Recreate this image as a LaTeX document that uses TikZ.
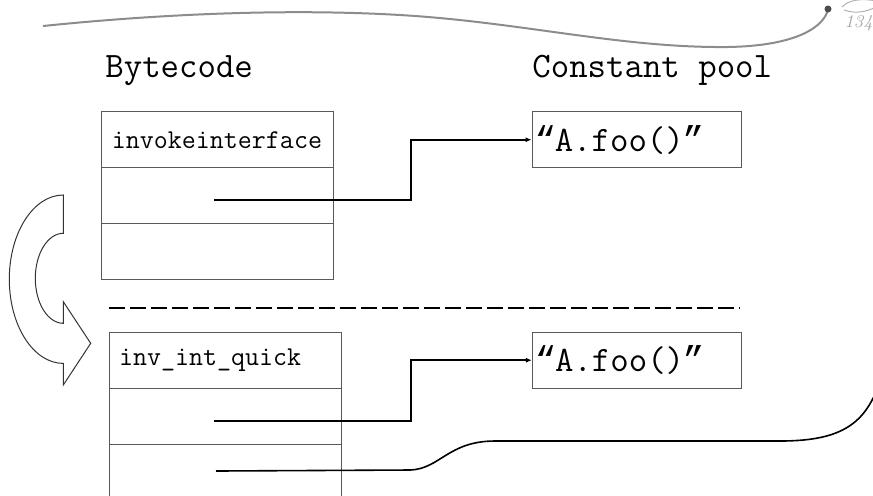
\documentclass[tikz,border=0pt]{standalone}
\usepackage{fontspec}
\newfontfamily\quotefont{Liberation Mono}
\usetikzlibrary{arrows.meta}

\newcommand{\oq}{\makebox[0.525em]{\quotefont “}}
\newcommand{\cq}{\makebox[0.525em]{\quotefont ”}}

\tikzset{
  cell/.style={draw=black!65, line width=0.5pt, rectangle, minimum height=28pt,
    text width=106pt, inner xsep=5pt, inner ysep=0pt, align=left,
    font=\ttfamily\fontsize{13.6}{14}\selectfont},
  poolcell/.style={cell, text width=100.5pt, inner xsep=2pt,
    font=\ttfamily\fontsize{17.9}{18}\selectfont},
  header/.style={anchor=base west, inner sep=0pt, font=\ttfamily\fontsize{17.9}{18}\selectfont},
  ptr/.style={line width=0.8pt, -{Latex[length=3pt,width=2.6pt]}},
  slideline/.style={draw=gray!90, line width=1pt},
}

\begin{document}
\begin{tikzpicture}[x=0.5pt, y=-0.5pt]
    \useasboundingbox (0,0) rectangle (873,495);

    % Slide decoration (top)
    \draw[slideline] (43,26) .. controls (150,15) and (280,8) .. (400,15)
        .. controls (520,22) and (620,48) .. (727,47)
        .. controls (800,46) and (825,25) .. (828,9);
    \fill[gray!60!black] (828,9) circle (1.75pt);
    \draw[gray!60, line width=0.5pt] (842,7) .. controls (848,0) and (862,-2) .. (876,1);
    \draw[gray!60, line width=0.5pt] (844,10) .. controls (855,14) and (866,12) .. (876,7);
    \node[anchor=base west, inner sep=0pt, font=\itshape\fontsize{9}{11}\selectfont, text=gray!70] (pgnum) at (844,27) {134};

    % Column titles
    \node[header] (bytecode) at (105,77) {Bytecode};
    \node[header] (pool) at (532,77) {Constant pool};

    % Bytecode before rewriting
    \node[cell] (bc1) at (217.9,139.7) {invokeinterface};
    \node[cell] (bc2) at (217.9,195.7) {};
    \node[cell] (bc3) at (217.9,251.7) {};
    \node[poolcell] (cp1) at (636.5,139.7) {\oq A.foo()\cq};

    \coordinate (p1) at (214,200);
    \coordinate (k1) at (411,200);
    \draw[ptr] (p1) -- (k1) |- (cp1.west);

    % Separator
    \draw[line width=0.8pt, dash pattern=on 7.75pt off 2.75pt] (109,308) -- (740,308);

    % Rewrite arrow
    \draw[black!80, line width=0.5pt, fill=white] (63.3,195)
        arc[start angle=90, end angle=270, x radius=27pt, y radius=42.1pt]
        -- (63.3,385) -- (90.7,343.3) -- (63.3,301.7) -- (63.3,323.3)
        arc[start angle=270, end angle=90, x radius=14pt, y radius=22.5pt]
        -- cycle;

    % Bytecode after rewriting
    \node[cell] (qc1) at (225,360.3) {inv\_int\_quick};
    \node[cell] (qc2) at (225,416.3) {};
    \node[cell] (qc3) at (225,472.3) {};
    \node[poolcell] (cp2) at (636.8,360.2) {\oq A.foo()\cq};

    \coordinate (p2) at (214,421);
    \coordinate (k2) at (411,421);
    \draw[ptr] (p2) -- (k2) |- (cp2.west);

    \coordinate (p3) at (216,471);
    \coordinate (off) at (884,368);
    \draw[line width=0.8pt] (p3) -- (410,470) .. controls (440,469) and (448,441) .. (495,441)
        -- (780,441) .. controls (848,441) and (870,420) .. (off);
\end{tikzpicture}
\end{document}
